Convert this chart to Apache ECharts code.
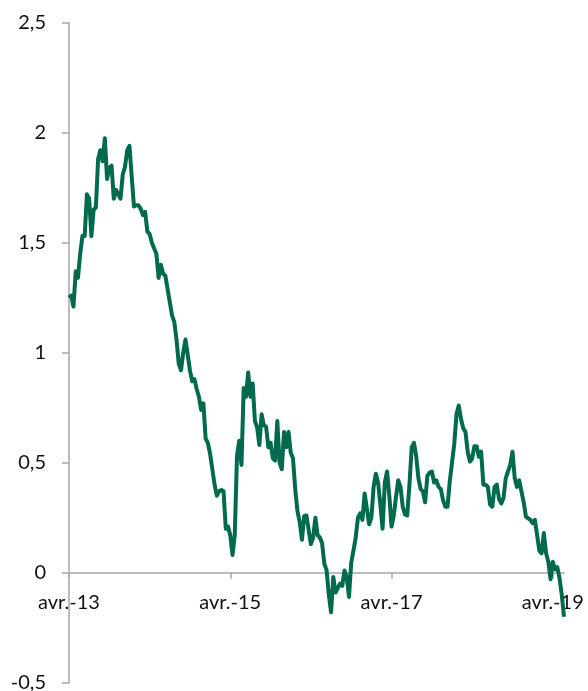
<!DOCTYPE html>
<html>
<head>
<meta charset="UTF-8">
<title>avr.-13 - avr.-19</title>
<script src="https://cdn.jsdelivr.net/npm/echarts@6/dist/echarts.min.js" type="text/javascript"></script>
<style type="text/css">
    html,body{
        margin:0;
        height:100%;
        background:#fff;
    }
</style>
</head>
<body>
<div id="container" style="width:588px;height:691px"></div>
<script type="text/javascript">

	// valeurs, 3 points par mois (1, 11, 21) d'avril 2013 a mai 2019
	var values = [
		1.25, 1.26, 1.21, 1.37, 1.34, 1.45, 1.53, 1.53, 1.72, 1.70,
		1.53, 1.65, 1.66, 1.88, 1.92, 1.87, 1.975, 1.79, 1.84, 1.85,
		1.70, 1.74, 1.72, 1.70, 1.81, 1.845, 1.92, 1.94, 1.80, 1.665,
		1.67, 1.67, 1.655, 1.625, 1.64, 1.55, 1.54, 1.50, 1.475, 1.45,
		1.34, 1.40, 1.36, 1.35, 1.29, 1.23, 1.17, 1.14, 1.06, 0.95,
		0.92, 1.00, 1.06, 0.99, 0.92, 0.87, 0.88, 0.835, 0.80, 0.74,
		0.77, 0.61, 0.59, 0.54, 0.47, 0.40, 0.35, 0.37, 0.376, 0.37,
		0.20, 0.21, 0.17, 0.08, 0.17, 0.53, 0.60, 0.49, 0.84, 0.80,
		0.91, 0.80, 0.86, 0.69, 0.66, 0.58, 0.72, 0.67, 0.664, 0.57,
		0.59, 0.52, 0.51, 0.69, 0.50, 0.47, 0.64, 0.57, 0.64, 0.545,
		0.52, 0.38, 0.28, 0.23, 0.15, 0.257, 0.26, 0.194, 0.13, 0.16,
		0.25, 0.17, 0.16, 0.134, 0.04, 0.012, -0.10, -0.18, -0.02, -0.09,
		-0.07, -0.05, -0.06, 0.01, -0.02, -0.11, 0.045, 0.10, 0.16, 0.25,
		0.27, 0.24, 0.36, 0.29, 0.22, 0.25, 0.39, 0.45, 0.41, 0.31,
		0.20, 0.41, 0.46, 0.35, 0.21, 0.26, 0.345, 0.42, 0.39, 0.30,
		0.265, 0.26, 0.40, 0.57, 0.59, 0.53, 0.43, 0.38, 0.37, 0.32,
		0.44, 0.455, 0.46, 0.41, 0.42, 0.39, 0.38, 0.33, 0.30, 0.30,
		0.415, 0.50, 0.585, 0.72, 0.76, 0.70, 0.657, 0.64, 0.55, 0.505,
		0.52, 0.575, 0.575, 0.527, 0.55, 0.40, 0.40, 0.39, 0.31, 0.30,
		0.39, 0.40, 0.335, 0.315, 0.34, 0.43, 0.46, 0.49, 0.55, 0.43,
		0.39, 0.42, 0.37, 0.32, 0.255, 0.247, 0.24, 0.225, 0.24, 0.17,
		0.10, 0.088, 0.18, 0.088, 0.05, -0.03, 0.05, 0.015, 0.025, -0.025,
		-0.10, -0.20
	];

	// etiquettes de l'axe des x
	var tickDates = ['2013-04-01', '2015-04-01', '2017-04-01', '2019-04-01'];
	var tickLabels = ['avr.-13', 'avr.-15', 'avr.-17', 'avr.-19'];

	// categories : dates du 1, 11 et 21 de chaque mois
	var dates = [];
	for (var y = 2013; y <= 2019; y++) {
		for (var m = 1; m <= 12; m++) {
			if (y === 2013 && m < 4) continue;
			if (y === 2019 && m > 5) continue;
			[1, 11, 21].forEach(function (d) {
				dates.push(y + '-' + (m < 10 ? '0' + m : m) + '-' + (d < 10 ? '0' + d : d));
			});
		}
	}

	function isTick(index, value) {
		return tickDates.indexOf(value) >= 0;
	}

	var yMin = -0.5, yMax = 2.5;
	var gridTop = 22.7, gridBottom = 8.3, chartH = 691;
	// position du zero dans la grille principale (les etiquettes x restent collees a l'axe)
	var zeroY = gridTop + (chartH - gridTop - gridBottom) * yMax / (yMax - yMin);

	var gray = '#a6a6a6';
	var chart = echarts.init(document.getElementById('container'));
	var option = {
		animation: false,
		textStyle: { fontFamily: 'Lato' },
		grid: [
			{ left: 69, right: 24, top: gridTop, bottom: gridBottom, containLabel: false, outerBoundsMode: 'none' },
			{ left: 69, right: 24, top: gridTop, bottom: chartH - zeroY, containLabel: false, outerBoundsMode: 'none' }
		],
		xAxis: [{
			type: 'category',
			gridIndex: 0,
			data: dates,
			boundaryGap: false,
			axisLine: { onZero: true, lineStyle: { color: gray, width: 1.5 } },
			axisTick: { show: true, interval: isTick, length: 6, lineStyle: { color: gray, width: 1.5 } },
			axisLabel: { show: false },
			splitLine: { show: false }
		}, {
			type: 'category',
			gridIndex: 1,
			data: dates,
			boundaryGap: false,
			axisLine: { show: false, onZero: false },
			axisTick: { show: false },
			axisLabel: {
				interval: isTick,
				margin: 20,
				fontSize: 20,
				color: '#111',
				formatter: function (v) {
					var i = tickDates.indexOf(v);
					return i >= 0 ? tickLabels[i] : '';
				}
			},
			splitLine: { show: false }
		}],
		yAxis: [{
			type: 'value',
			gridIndex: 0,
			min: yMin,
			max: yMax,
			interval: 0.5,
			axisLine: { show: true, lineStyle: { color: gray, width: 1.5 } },
			axisTick: { show: true, length: 7, lineStyle: { color: gray, width: 1.5 } },
			axisLabel: {
				margin: 23,
				fontSize: 20,
				color: '#111',
				formatter: function (v) {
					return String(v).replace('.', ',');
				}
			},
			splitLine: { show: false }
		}, {
			type: 'value',
			gridIndex: 1,
			show: false
		}],
		series: [{
			type: 'line',
			xAxisIndex: 0,
			yAxisIndex: 0,
			data: values,
			showSymbol: false,
			lineStyle: { color: '#006a4e', width: 4, join: 'round' },
			itemStyle: { color: '#006a4e' }
		}]
	};
	chart.setOption(option);

</script>
</body>
</html>
